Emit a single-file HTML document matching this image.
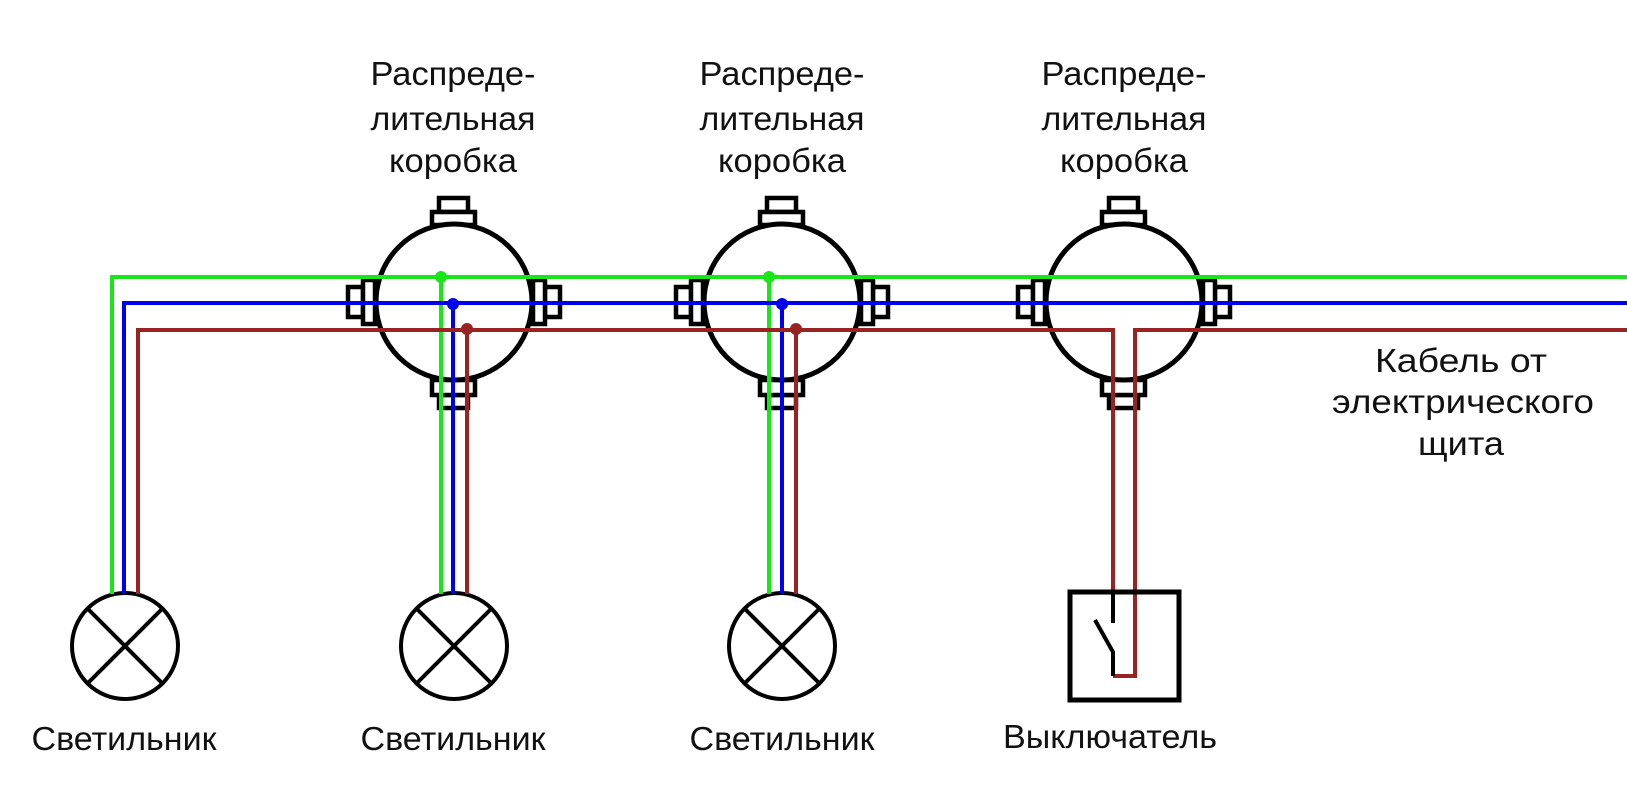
<!DOCTYPE html>
<html><head><meta charset="utf-8"><style>
html,body{margin:0;padding:0;background:#fff;}
svg{display:block;}
text{font-family:"Liberation Sans","DejaVu Sans",sans-serif;font-size:33px;fill:#111;}
</style></head><body>
<svg width="1627" height="811" viewBox="0 0 1627 811" xmlns="http://www.w3.org/2000/svg">
<defs>
<g id="box">
 <g fill="#fff" stroke="#000" stroke-width="4.5">
  <rect x="-15" y="-104" width="29" height="14"/>
  <rect x="-22" y="-90" width="43" height="13"/>
  <rect x="-15" y="93" width="29" height="13"/>
  <rect x="-22" y="78" width="43" height="15"/>
  <rect x="-106" y="-15" width="15" height="30"/>
  <rect x="-91" y="-22" width="12" height="44"/>
  <rect x="91" y="-15" width="15" height="30"/>
  <rect x="79" y="-22" width="12" height="44"/>
 </g>
 <circle cx="0" cy="0" r="78" fill="#fff" stroke="#000" stroke-width="5"/>
</g>
<g id="lamp" fill="none" stroke="#000" stroke-width="4">
 <circle cx="0" cy="0" r="53"/>
 <line x1="-37" y1="-37" x2="37" y2="37"/>
 <line x1="-37" y1="37" x2="37" y2="-37"/>
</g>
</defs>

<use href="#box" x="454" y="302"/>
<use href="#box" x="782" y="302"/>
<use href="#box" x="1124" y="302"/>

<use href="#lamp" x="125" y="646"/>
<use href="#lamp" x="454" y="646"/>
<use href="#lamp" x="782" y="646"/>

<g fill="none" stroke-width="4">
 <!-- green -->
 <polyline stroke="#19e619" points="112,594 112,277 1627,277"/>
 <line stroke="#19e619" x1="441" y1="277" x2="441" y2="594"/>
 <line stroke="#19e619" x1="769" y1="277" x2="769" y2="594"/>
 <!-- blue -->
 <polyline stroke="#0000f0" points="124,594 124,303 1627,303"/>
 <line stroke="#0000f0" x1="453" y1="303" x2="453" y2="594"/>
 <line stroke="#0000f0" x1="782" y1="303" x2="782" y2="594"/>
 <!-- red -->
 <polyline stroke="#992222" points="138,594 138,330 1113,330 1113,594"/>
 <polyline stroke="#992222" points="1627,330 1135,330 1135,676 1113,676"/>
 <line stroke="#992222" x1="467" y1="330" x2="467" y2="594"/>
 <line stroke="#992222" x1="796" y1="330" x2="796" y2="594"/>
</g>
<g>
 <circle cx="441" cy="277" r="6" fill="#19e619"/>
 <circle cx="453" cy="304" r="6" fill="#0000f0"/>
 <circle cx="467" cy="329" r="6" fill="#992222"/>
 <circle cx="769" cy="277" r="6" fill="#19e619"/>
 <circle cx="782" cy="304" r="6" fill="#0000f0"/>
 <circle cx="796" cy="329" r="6" fill="#992222"/>
</g>

<!-- switch -->
<rect x="1070" y="592" width="109" height="108" fill="none" stroke="#000" stroke-width="5"/>
<g stroke="#000" stroke-width="4" fill="none">
 <line x1="1113" y1="594" x2="1113" y2="623"/>
 <polyline points="1095,620 1113,652 1113,676"/>
</g>

<!-- labels -->
<g text-anchor="middle">
 <text x="453" y="85" textLength="165" lengthAdjust="spacingAndGlyphs">Распреде-</text>
 <text x="453" y="130" textLength="165" lengthAdjust="spacingAndGlyphs">лительная</text>
 <text x="453" y="172" textLength="128" lengthAdjust="spacingAndGlyphs">коробка</text>
 <text x="782" y="85" textLength="165" lengthAdjust="spacingAndGlyphs">Распреде-</text>
 <text x="782" y="130" textLength="165" lengthAdjust="spacingAndGlyphs">лительная</text>
 <text x="782" y="172" textLength="128" lengthAdjust="spacingAndGlyphs">коробка</text>
 <text x="1124" y="85" textLength="165" lengthAdjust="spacingAndGlyphs">Распреде-</text>
 <text x="1124" y="130" textLength="165" lengthAdjust="spacingAndGlyphs">лительная</text>
 <text x="1124" y="172" textLength="128" lengthAdjust="spacingAndGlyphs">коробка</text>

 <text x="1461" y="372" textLength="172" lengthAdjust="spacingAndGlyphs">Кабель от</text>
 <text x="1463" y="413" textLength="262" lengthAdjust="spacingAndGlyphs">электрического</text>
 <text x="1461" y="455" textLength="86" lengthAdjust="spacingAndGlyphs">щита</text>

 <text x="124" y="750" textLength="185" lengthAdjust="spacingAndGlyphs">Светильник</text>
 <text x="453" y="750" textLength="185" lengthAdjust="spacingAndGlyphs">Светильник</text>
 <text x="782" y="750" textLength="185" lengthAdjust="spacingAndGlyphs">Светильник</text>
 <text x="1110" y="748" textLength="214" lengthAdjust="spacingAndGlyphs">Выключатель</text>
</g>
</svg>
</body></html>
